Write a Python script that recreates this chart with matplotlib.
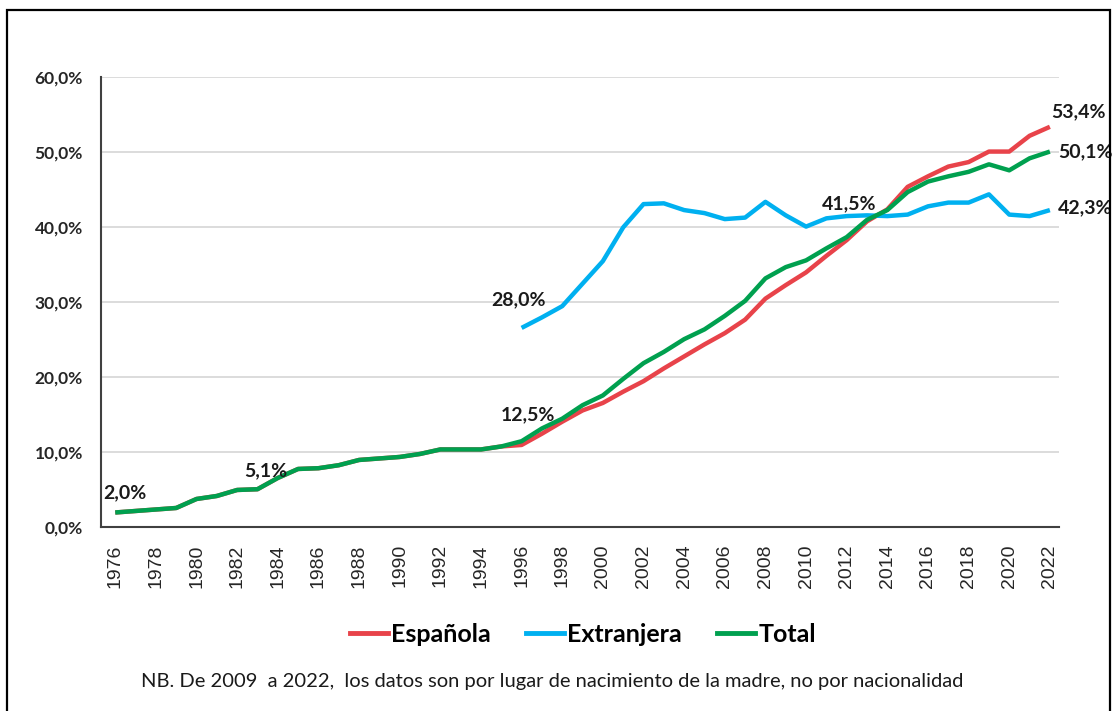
import matplotlib
matplotlib.use("Agg")
import matplotlib.pyplot as plt
from matplotlib.patches import Rectangle
from matplotlib.lines import Line2D

# ============================================================================
# DATOS
# ============================================================================

years = list(range(1976, 2023))

espanola = [2.0, 2.2, 2.4, 2.6, 3.8, 4.2, 5.0, 5.1, 6.6, 7.8,
            7.9, 8.3, 9.0, 9.2, 9.4, 9.8, 10.4, 10.4, 10.4, 10.8,
            11.0, 12.5, 14.1, 15.6, 16.6, 18.1, 19.5, 21.2, 22.8, 24.4,
            25.9, 27.7, 30.5, 32.3, 34.0, 36.2, 38.3, 40.8, 42.4, 45.4,
            46.8, 48.1, 48.7, 50.1, 50.1, 52.2, 53.4]

total = [2.0, 2.2, 2.4, 2.6, 3.8, 4.2, 5.0, 5.1, 6.6, 7.8,
         7.9, 8.3, 9.0, 9.2, 9.4, 9.8, 10.4, 10.4, 10.4, 10.8,
         11.5, 13.2, 14.5, 16.3, 17.6, 19.8, 21.9, 23.4, 25.1, 26.4,
         28.2, 30.2, 33.2, 34.7, 35.6, 37.2, 38.7, 41.0, 42.3, 44.7,
         46.1, 46.8, 47.4, 48.4, 47.6, 49.2, 50.1]

ext_years = list(range(1996, 2023))
extranjera = [26.6, 28.0, 29.5, 32.5, 35.5, 40.0, 43.1, 43.2, 42.3, 41.9,
              41.1, 41.3, 43.4, 41.6, 40.1, 41.2, 41.5, 41.6, 41.5, 41.7,
              42.8, 43.3, 43.3, 44.4, 41.7, 41.5, 42.3]

year_ticks = list(range(1976, 2023, 2))
y_ticks = [0, 10, 20, 30, 40, 50, 60]

nota = "NB. De 2009  a 2022,  los datos son por lugar de nacimiento de la madre, no por nacionalidad"

# ============================================================================
# ESTILO
# ============================================================================

RED = "#E8434A"
BLUE = "#00B0F0"
GREEN = "#00A04F"

CALIB = ["Lato", "DejaVu Sans"]
ARIAL = ["Liberation Sans", "DejaVu Sans"]


def pct(v):
    return f"{v:.1f}".replace(".", ",") + "%"


fig = plt.figure(figsize=(11.15, 7.11), dpi=100)
ax = fig.add_axes([0.0906, 0.2581, 0.8592, 0.6332])

ax.plot(years, espanola, color=RED, linewidth=3.2, solid_capstyle="butt", zorder=3)
ax.plot(ext_years, extranjera, color=BLUE, linewidth=3.2, solid_capstyle="butt", zorder=3)
ax.plot(years, total, color=GREEN, linewidth=3.2, solid_capstyle="butt", zorder=4)

ax.set_xlim(1975.3, 2022.45)
ax.set_ylim(0, 60)

ax.set_yticks(y_ticks)
ax.set_yticklabels([pct(v) for v in y_ticks], family=CALIB,
                   fontweight="bold", fontsize=12.5, color="#262626")
ax.set_xticks(year_ticks)
ax.set_xticklabels([str(y) for y in year_ticks], rotation=90,
                   family=ARIAL, fontsize=14, color="#262626")
ax.tick_params(axis="both", length=0)
ax.tick_params(axis="y", pad=13)
ax.tick_params(axis="x", pad=12)

ax.grid(axis="y", color="#d9d9d9", linewidth=1.3)
ax.set_axisbelow(True)
for side in ["top", "right"]:
    ax.spines[side].set_visible(False)
for side in ["left", "bottom"]:
    ax.spines[side].set_color("#404040")
    ax.spines[side].set_linewidth(1.5)

# ============================================================================
# ETIQUETAS DE DATOS
# ============================================================================

labels = [
    (1976, total[0], (7, 14), "center"),
    (1983, total[7], (6, 13), "center"),
    (1997, espanola[21], (-10, 14), "center"),
    (1997, extranjera[1], (-17, 13), "center"),
    (2012, extranjera[16], (2, 9), "center"),
    (2022, espanola[-1], (1, 11), "left"),
    (2022, total[-1], (6, 0), "left"),
    (2022, extranjera[-1], (6, 2), "left"),
]

for x, v, off, ha in labels:
    ax.annotate(pct(v), xy=(x, v), xytext=off, textcoords="offset points",
                ha=ha, va="center", family=CALIB, fontweight="bold",
                fontsize=14, color="#1a1a1a", zorder=5)

# ============================================================================
# LEYENDA Y NOTA
# ============================================================================

handles = [
    Line2D([], [], color=RED, linewidth=3.5),
    Line2D([], [], color=BLUE, linewidth=3.5),
    Line2D([], [], color=GREEN, linewidth=3.5),
]
fig.legend(handles, ["Española", "Extranjera", "Total"],
           loc="center", bbox_to_anchor=(0.523, 0.108), ncol=3,
           frameon=False, handlelength=1.5, handletextpad=0.15,
           columnspacing=1.4,
           prop={"family": CALIB, "weight": "bold", "size": 18})

fig.text(0.4955, 0.042, nota, ha="center", va="center",
         family=CALIB, fontsize=14.5, color="#1a1a1a")

# marco exterior
fig.patches.append(Rectangle((7 / 1115, -0.02), (1110 - 7) / 1115, 1.02 - 10 / 711,
                             transform=fig.transFigure, fill=False,
                             edgecolor="black", linewidth=1.6))

fig.savefig("out.png", dpi=100)
